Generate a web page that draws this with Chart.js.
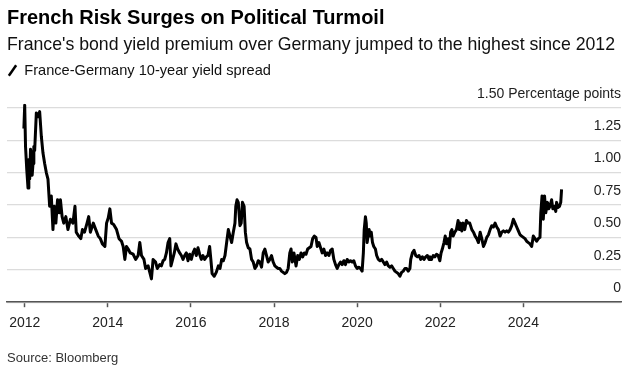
<!DOCTYPE html>
<html>
<head>
<meta charset="utf-8">
<script src="https://cdn.jsdelivr.net/npm/chart.js@4.4.1/dist/chart.umd.min.js"></script>
<style>
  body { margin: 0; background: #fff; }
  #wrap { position: relative; width: 633px; height: 371px; }
  #source {
    position: absolute; left: 7px; top: 350px;
    font: 13px "Liberation Sans", Arial, sans-serif; color: #333;
  }
</style>
</head>
<body>
<div id="wrap">
  <canvas id="chart" width="633" height="371"></canvas>
  <div id="source">Source: Bloomberg</div>
</div>
<script>
// Diferencial Francia-Alemania a 10 años (puntos porcentuales)
const spreadYears = [
  2011.98, 2012.00, 2012.02, 2012.05, 2012.08, 2012.10, 2012.12, 2012.14, 2012.16, 2012.18, 2012.20, 2012.22, 2012.24,
  2012.28, 2012.32, 2012.36, 2012.40, 2012.44, 2012.48, 2012.52, 2012.56, 2012.60, 2012.64, 2012.68, 2012.71,
  2012.75, 2012.79, 2012.83, 2012.86, 2012.90, 2012.94, 2012.99, 2013.04, 2013.10, 2013.16, 2013.21, 2013.24,
  2013.30, 2013.35, 2013.39, 2013.44, 2013.50, 2013.54, 2013.58, 2013.65, 2013.71, 2013.77, 2013.82, 2013.87,
  2013.93, 2013.97, 2014.01, 2014.05, 2014.09, 2014.14, 2014.21, 2014.27, 2014.33, 2014.37, 2014.41, 2014.45,
  2014.49, 2014.54, 2014.61, 2014.67, 2014.73, 2014.77, 2014.81, 2014.87, 2014.91, 2014.97, 2015.01, 2015.05,
  2015.09, 2015.15, 2015.19, 2015.25, 2015.29, 2015.33, 2015.37, 2015.41, 2015.45, 2015.49, 2015.52, 2015.56,
  2015.60, 2015.64, 2015.68, 2015.73, 2015.77, 2015.81, 2015.85, 2015.89, 2015.93, 2015.97, 2016.01, 2016.05,
  2016.09, 2016.13, 2016.17, 2016.21, 2016.25, 2016.29, 2016.33, 2016.37, 2016.41, 2016.45, 2016.48, 2016.51,
  2016.56, 2016.61, 2016.66, 2016.70, 2016.74, 2016.78, 2016.82, 2016.86, 2016.90, 2016.94, 2016.98, 2017.02,
  2017.06, 2017.08, 2017.11, 2017.14, 2017.18, 2017.21, 2017.24, 2017.28, 2017.31, 2017.34, 2017.38, 2017.42,
  2017.46, 2017.50, 2017.54, 2017.58, 2017.62, 2017.66, 2017.70, 2017.74, 2017.78, 2017.82, 2017.86, 2017.90,
  2017.94, 2017.98, 2018.02, 2018.06, 2018.10, 2018.14, 2018.18, 2018.22, 2018.26, 2018.30, 2018.34, 2018.38,
  2018.41, 2018.44, 2018.48, 2018.53, 2018.57, 2018.61, 2018.65, 2018.69, 2018.73, 2018.77, 2018.81, 2018.85,
  2018.89, 2018.93, 2018.97, 2019.01, 2019.04, 2019.08, 2019.12, 2019.16, 2019.20, 2019.24, 2019.28, 2019.32,
  2019.36, 2019.40, 2019.44, 2019.48, 2019.52, 2019.56, 2019.60, 2019.64, 2019.68, 2019.72, 2019.76, 2019.80,
  2019.84, 2019.88, 2019.92, 2019.96, 2020.00, 2020.04, 2020.08, 2020.12, 2020.15, 2020.17, 2020.20, 2020.22,
  2020.24, 2020.29, 2020.31, 2020.34, 2020.37, 2020.40, 2020.44, 2020.47, 2020.51, 2020.55, 2020.59, 2020.63,
  2020.67, 2020.71, 2020.75, 2020.79, 2020.83, 2020.87, 2020.91, 2020.95, 2020.99, 2021.03, 2021.07, 2021.11,
  2021.15, 2021.19, 2021.23, 2021.27, 2021.29, 2021.33, 2021.37, 2021.41, 2021.45, 2021.49, 2021.53, 2021.57,
  2021.61, 2021.65, 2021.69, 2021.73, 2021.75, 2021.79, 2021.83, 2021.87, 2021.91, 2021.95, 2021.99, 2022.02,
  2022.05, 2022.09, 2022.12, 2022.15, 2022.19, 2022.22, 2022.25, 2022.28, 2022.31, 2022.35, 2022.39, 2022.43,
  2022.46, 2022.49, 2022.52, 2022.55, 2022.59, 2022.63, 2022.67, 2022.71, 2022.76, 2022.80, 2022.84, 2022.88,
  2022.92, 2022.96, 2023.00, 2023.04, 2023.08, 2023.12, 2023.16, 2023.20, 2023.24, 2023.28, 2023.32, 2023.36,
  2023.40, 2023.44, 2023.48, 2023.52, 2023.56, 2023.60, 2023.64, 2023.68, 2023.72, 2023.76, 2023.80, 2023.84,
  2023.88, 2023.92, 2023.96, 2024.00, 2024.04, 2024.08, 2024.12, 2024.16, 2024.20, 2024.24, 2024.28, 2024.32,
  2024.36, 2024.40, 2024.42, 2024.45, 2024.48, 2024.51, 2024.54, 2024.58, 2024.61, 2024.64, 2024.68, 2024.71,
  2024.75, 2024.78, 2024.80, 2024.83, 2024.87, 2024.90, 2024.92
];
const spreadValues = [
  1.34, 1.52, 1.20, 1.02, 0.88, 1.10, 0.95, 1.18, 1.15, 0.98, 1.07, 1.20, 1.17,
  1.46, 1.43, 1.47, 1.28, 1.15, 1.07, 1.00, 0.95, 0.74, 0.82, 0.56, 0.74,
  0.61, 0.79, 0.69, 0.79, 0.66, 0.61, 0.66, 0.56, 0.64, 0.61, 0.74, 0.54,
  0.51, 0.49, 0.56, 0.54, 0.61, 0.66, 0.54, 0.61, 0.56, 0.51, 0.49, 0.45,
  0.43, 0.61, 0.65, 0.72, 0.61, 0.60, 0.56, 0.49, 0.47, 0.43, 0.33, 0.43,
  0.41, 0.38, 0.37, 0.33, 0.36, 0.46, 0.36, 0.33, 0.26, 0.28, 0.23, 0.18,
  0.33, 0.31, 0.26, 0.29, 0.28, 0.32, 0.33, 0.38, 0.46, 0.49, 0.28, 0.33,
  0.38, 0.45, 0.41, 0.38, 0.36, 0.33, 0.36, 0.38, 0.32, 0.37, 0.33, 0.38,
  0.41, 0.36, 0.42, 0.37, 0.33, 0.36, 0.33, 0.35, 0.36, 0.43, 0.33, 0.22,
  0.20, 0.23, 0.28, 0.26, 0.33, 0.32, 0.36, 0.46, 0.56, 0.51, 0.46, 0.54,
  0.61, 0.74, 0.79, 0.77, 0.59, 0.61, 0.77, 0.74, 0.54, 0.46, 0.42, 0.41,
  0.33, 0.31, 0.26, 0.28, 0.32, 0.31, 0.27, 0.38, 0.41, 0.36, 0.31, 0.33,
  0.36, 0.31, 0.28, 0.27, 0.26, 0.26, 0.24, 0.23, 0.22, 0.23, 0.26, 0.38,
  0.41, 0.31, 0.38, 0.28, 0.36, 0.33, 0.38, 0.35, 0.38, 0.37, 0.41, 0.42,
  0.43, 0.49, 0.51, 0.50, 0.43, 0.46, 0.42, 0.38, 0.41, 0.36, 0.38, 0.36,
  0.40, 0.41, 0.33, 0.29, 0.26, 0.29, 0.31, 0.29, 0.32, 0.29, 0.33, 0.31,
  0.32, 0.31, 0.32, 0.28, 0.26, 0.27, 0.26, 0.24, 0.38, 0.56, 0.66, 0.61,
  0.46, 0.56, 0.51, 0.54, 0.46, 0.43, 0.41, 0.36, 0.33, 0.32, 0.33, 0.31,
  0.29, 0.31, 0.28, 0.27, 0.28, 0.26, 0.24, 0.23, 0.22, 0.20, 0.23, 0.24,
  0.26, 0.26, 0.24, 0.26, 0.33, 0.38, 0.40, 0.36, 0.35, 0.36, 0.33, 0.35,
  0.33, 0.35, 0.36, 0.33, 0.35, 0.33, 0.36, 0.35, 0.37, 0.36, 0.32, 0.38,
  0.41, 0.46, 0.51, 0.45, 0.49, 0.42, 0.54, 0.56, 0.51, 0.54, 0.56, 0.63,
  0.56, 0.61, 0.55, 0.61, 0.56, 0.63, 0.61, 0.61, 0.56, 0.54, 0.51, 0.49,
  0.46, 0.54, 0.49, 0.43, 0.46, 0.50, 0.52, 0.56, 0.59, 0.58, 0.61, 0.58,
  0.56, 0.51, 0.54, 0.55, 0.54, 0.55, 0.54, 0.56, 0.59, 0.64, 0.61, 0.58,
  0.55, 0.52, 0.51, 0.50, 0.49, 0.47, 0.46, 0.45, 0.43, 0.51, 0.49, 0.47,
  0.49, 0.50, 0.69, 0.82, 0.64, 0.82, 0.69, 0.77, 0.72, 0.74, 0.79, 0.72,
  0.74, 0.70, 0.77, 0.73, 0.74, 0.77, 0.87
];
const xTickYears = [2012, 2014, 2016, 2018, 2020, 2022, 2024];
const yTickValues = [0, 0.25, 0.5, 0.75, 1.0, 1.25, 1.5];

const FONT = '"Liberation Sans", Arial, sans-serif';

// Espacio extra bajo la leyenda para la etiqueta "1.50 Percentage points"
const legendGap = {
  id: 'legendGap',
  beforeInit(chart) {
    const fitOriginal = chart.legend.fit;
    chart.legend.fit = function () {
      fitOriginal.bind(chart.legend)();
      this.height += 16;
    };
  }
};

const ctx = document.getElementById('chart').getContext('2d');
new Chart(ctx, {
  type: 'line',
  data: {
    datasets: [{
      label: 'France-Germany 10-year yield spread',
      data: spreadYears.map((x, i) => ({ x: x, y: spreadValues[i] })),
      borderColor: '#000',
      borderWidth: 3,
      borderJoinStyle: 'round',
      pointRadius: 0,
      pointHoverRadius: 0,
      pointStyle: 'line',
      pointRotation: -55,
      pointBorderWidth: 2.5,
      tension: 0
    }]
  },
  options: {
    responsive: false,
    animation: false,
    layout: { padding: { left: 7, right: 12, top: 0, bottom: 31 } },
    plugins: {
      title: {
        display: true,
        text: 'French Risk Surges on Political Turmoil',
        align: 'start',
        color: '#000',
        font: { family: FONT, size: 20, weight: 'bold' },
        padding: { top: 6, bottom: 0 }
      },
      subtitle: {
        display: true,
        text: "France's bond yield premium over Germany jumped to the highest since 2012",
        align: 'start',
        color: '#111',
        font: { family: FONT, size: 17.7 },
        padding: { top: 4, bottom: 7 }
      },
      legend: {
        display: true,
        align: 'start',
        labels: {
          usePointStyle: true,
          boxWidth: 9,
          boxHeight: 9,
          padding: 1,
          color: '#111',
          font: { family: FONT, size: 14.6 }
        }
      },
      tooltip: { enabled: false }
    },
    scales: {
      x: {
        type: 'linear',
        min: 2011.574,
        max: 2026.35,
        afterBuildTicks: (axis) => { axis.ticks = xTickYears.map(v => ({ value: v })); },
        ticks: {
          autoSkip: false,
          maxRotation: 0,
          padding: 8,
          color: '#222',
          font: { family: FONT, size: 14 },
          callback: (v) => String(v)
        },
        grid: { drawOnChartArea: false, drawTicks: true, tickLength: 5, tickColor: '#555', tickWidth: 1.5 },
        border: { display: true, color: '#555', width: 1.5 }
      },
      y: {
        position: 'right',
        min: 0,
        max: 1.53,
        afterBuildTicks: (axis) => { axis.ticks = yTickValues.map(v => ({ value: v })); },
        ticks: {
          mirror: true,
          padding: 0,
          labelOffset: -14,
          color: '#222',
          font: { family: FONT, size: 14 },
          callback: (v) => v === 0 ? '0' : (v === 1.5 ? '1.50 Percentage points' : v.toFixed(2))
        },
        grid: { color: '#dcdcdc', lineWidth: 1.2, drawTicks: false },
        border: { display: false }
      }
    }
  },
  plugins: [legendGap]
});
</script>
</body>
</html>
